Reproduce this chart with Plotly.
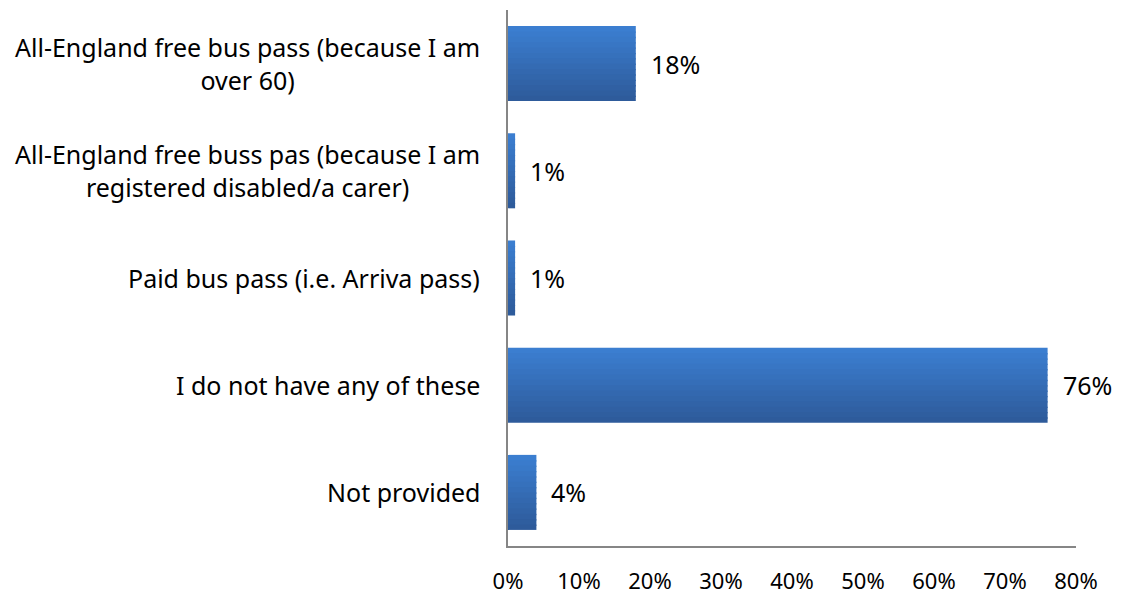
import plotly.graph_objects as go

categories = [
    "All-England free bus pass (because I am<br>over 60)",
    "All-England free buss pas (because I am<br>registered disabled/a carer)",
    "Paid bus pass (i.e. Arriva pass)",
    "I do not have any of these",
    "Not provided",
]
values = [18, 1, 1, 76, 4]
tick_vals = [0, 10, 20, 30, 40, 50, 60, 70, 80]
tick_text = ["0%", "10%", "20%", "30%", "40%", "50%", "60%", "70%", "80%"]

FONT = "Noto Sans"
BAR_W = 0.7
N = 14
top_rgb = (59, 126, 208)
bot_rgb = (46, 91, 155)

fig = go.Figure()
ypos = list(range(len(categories)))
# gradient effect: stacked slices of the same bar (top to bottom in screen space)
for k in range(N):
    t = k / (N - 1)
    r, g, b = (round(top_rgb[j] + (bot_rgb[j] - top_rgb[j]) * t) for j in range(3))
    slice_w = BAR_W / N
    fig.add_trace(go.Bar(
        x=values, y=ypos, orientation="h",
        width=slice_w * 1.25 if k < N - 1 else slice_w,
        offset=-BAR_W / 2 + k * slice_w,
        marker=dict(color=f"rgb({r},{g},{b})", line=dict(width=0)),
        hoverinfo="skip" if k else None,
    ))

for i, (c, v) in enumerate(zip(categories, values)):
    fig.add_annotation(x=0, y=i, xref="x", yref="y", text=c, showarrow=False,
                       xanchor="right", align="center", xshift=-26,
                       font=dict(family=FONT, size=25, color="#000"))
    fig.add_annotation(x=v, y=i, xref="x", yref="y", text=f"{v}%", showarrow=False,
                       xanchor="left", xshift=13,
                       font=dict(family=FONT, size=25, color="#000"))

fig.update_layout(
    width=1121, height=598,
    margin=dict(l=508, r=45, t=10, b=52, autoexpand=False),
    plot_bgcolor="white", paper_bgcolor="white",
    showlegend=False,
    barmode="overlay",
)
fig.update_xaxes(range=[0, 80], tickvals=tick_vals, ticktext=tick_text,
                 showgrid=False, zeroline=False, showline=True, linecolor="#868686",
                 linewidth=2, ticks="", ticklabelstandoff=15, automargin=False,
                 tickfont=dict(family=FONT, size=22, color="#000"))
fig.update_yaxes(range=[4.5, -0.5], showticklabels=False, showgrid=False, zeroline=False,
                 showline=True, linecolor="#868686", linewidth=2, ticks="", automargin=False)
fig.write_html("out.html")
